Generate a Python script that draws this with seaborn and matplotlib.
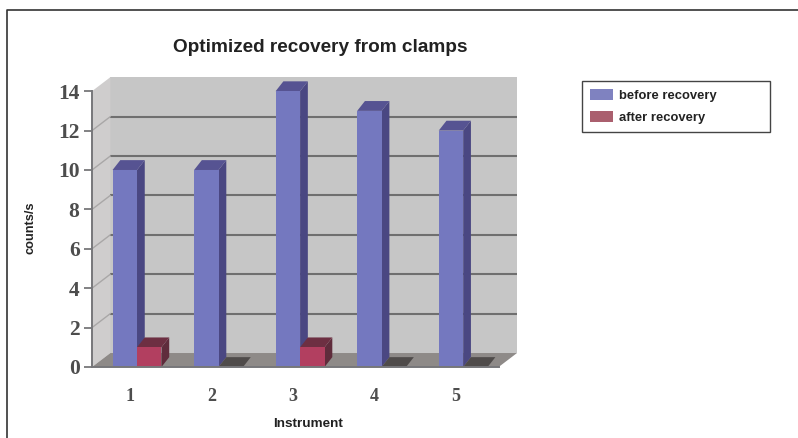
import matplotlib
matplotlib.use("Agg")
import matplotlib.pyplot as plt
from matplotlib.lines import Line2D
from matplotlib.patches import Polygon, Patch
from matplotlib.transforms import ScaledTranslation
import pandas as pd
import seaborn as sns

instruments = ["1", "2", "3", "4", "5"]
before_recovery = [10, 10, 14, 13, 12]
after_recovery = [1, 0, 1, 0, 0]
series_names = ["before recovery", "after recovery"]
y_ticks = [0, 2, 4, 6, 8, 10, 12, 14]

FRONT = {"before recovery": "#7478bf", "after recovery": "#b23f60"}
SIDE = {"before recovery": "#4a4782", "after recovery": "#5f2c3c"}
TOP = {"before recovery": "#565392", "after recovery": "#6d2f42"}
LEGEND_COLORS = ["#7f82c0", "#aa5f6e"]

W, H = 798, 438
sns.set_theme(style="white")
plt.rcParams["font.family"] = ["Liberation Sans", "DejaVu Sans"]

df = pd.DataFrame({
    "Instrument": instruments * 2,
    "series": [series_names[0]] * 5 + [series_names[1]] * 5,
    "value": before_recovery + after_recovery,
})

fig = plt.figure(figsize=(W / 100, H / 100), dpi=100, facecolor="white")
ax = fig.add_axes([92 / W, 1 - 367 / H, (517 - 92) / W, (367 - 77) / H])

sns.barplot(data=df, x="Instrument", y="value", hue="series", order=instruments,
            hue_order=series_names, palette=FRONT, width=0.6, saturation=1,
            edgecolor="none", linewidth=0, legend=False, ax=ax)

x_left, x_right = -0.552, 4.66
ax.set_xlim(x_left, x_right)
ax.set_ylim(0, 14.72)
ax.set_facecolor("none")

# Depth of the box and of each bar, in data units
wall_dx, wall_dy = 0.225, 0.71
bar_dx, bar_dy = 0.095, 0.5
x_front_end = x_right - wall_dx
top_value = y_ticks[-1]

# Back wall, side wall and floor
ax.add_patch(Polygon([(x_left + wall_dx, wall_dy), (x_right, wall_dy),
                      (x_right, top_value + wall_dy), (x_left + wall_dx, top_value + wall_dy)],
                     fc="#c6c6c6", ec="none", zorder=0.5))
ax.add_patch(Polygon([(x_left, 0), (x_left + wall_dx, wall_dy),
                      (x_left + wall_dx, top_value + wall_dy), (x_left, top_value)],
                     fc="#cfcdcd", ec="none", zorder=0.6))
ax.add_patch(Polygon([(x_left, 0), (x_front_end, 0), (x_right, wall_dy), (x_left + wall_dx, wall_dy)],
                     fc="#8e8a88", ec="none", zorder=0.7))

# Gridlines follow the wall and turn along the side wall
for v in y_ticks[1:-1]:
    ax.plot([x_left + wall_dx, x_right], [v + wall_dy] * 2, color="#6f6f6f", lw=1.5, zorder=1,
            solid_capstyle="butt")
    ax.plot([x_left, x_left + wall_dx], [v, v + wall_dy], color="#a9a7a7", lw=1.0, zorder=1)

# Extruded faces for each bar, built from the bars seaborn drew
for level, (name, container) in enumerate(zip(series_names, ax.containers)):
    base_z = 3 + 2 * level
    for bar in container:
        x0, w, h = bar.get_x(), bar.get_width(), bar.get_height()
        x1 = x0 + w
        bar.set_zorder(base_z + 1)
        ax.add_patch(Polygon([(x1, 0), (x1 + bar_dx, bar_dy), (x1 + bar_dx, h + bar_dy), (x1, h)],
                             fc=SIDE[name], ec="none", zorder=base_z))
        ax.add_patch(Polygon([(x0, h), (x1, h), (x1 + bar_dx, h + bar_dy), (x0 + bar_dx, h + bar_dy)],
                             fc=TOP[name] if h > 0 else "#4f4b4a", ec="none", zorder=base_z))

# Axes, ticks and labels
for side in ("top", "right"):
    ax.spines[side].set_visible(False)
for side in ("left", "bottom"):
    ax.spines[side].set_color("#77777a")
    ax.spines[side].set_linewidth(1.4)
    ax.spines[side].set_zorder(8)
ax.spines["left"].set_bounds(0, top_value)
ax.spines["bottom"].set_bounds(x_left, x_front_end)

tick_font = {"family": ["Liberation Serif", "DejaVu Serif"], "weight": "bold", "color": "#4d4d4d"}
ax.set_yticks(y_ticks)
ax.set_yticklabels([str(v) for v in y_ticks], fontsize=15.5, **tick_font)
ax.tick_params(axis="y", length=6, width=1.3, color="#77777a", pad=3, left=True)
ax.set_xticks(range(len(instruments)))
ax.set_xticklabels(instruments, fontsize=13, **tick_font)
ax.tick_params(axis="x", length=0, pad=15, bottom=False)
shift = ScaledTranslation(-7 / 100, 0, fig.dpi_scale_trans)
for label in ax.get_xticklabels():
    label.set_transform(label.get_transform() + shift)
ax.set_xlabel("")
ax.set_ylabel("")

fig.text(320 / W, 1 - 47 / H, "Optimized recovery from clamps", ha="center", va="center",
         fontsize=13.7, fontweight="bold", color="#222222")
fig.text(308 / W, 1 - 424 / H, "Instrument", ha="center", va="center",
         fontsize=9.7, fontweight="bold", color="#222222")
fig.text(30 / W, 1 - 228 / H, "counts/s", ha="center", va="center", rotation=90,
         fontsize=9.2, fontweight="bold", color="#222222")

handles = [Patch(fc=c, ec="none") for c in LEGEND_COLORS]
legend = fig.legend(handles, series_names, loc="upper left",
                    bbox_to_anchor=(582 / W, 1 - 132 / H, 188 / W, 51 / H),
                    mode="expand", ncols=1, prop={"size": 9.4, "weight": "bold"},
                    fancybox=False, framealpha=1, edgecolor="#444444", borderaxespad=0,
                    borderpad=0.6, handlelength=1.77, handleheight=0.9,
                    handletextpad=0.45, labelspacing=0.7, labelcolor="#222222")
legend.get_frame().set_linewidth(1.0)

# Outer border on the top and left of the page
fig.add_artist(Line2D([7 / W, 7 / W, 1], [0, 1 - 10 / H, 1 - 10 / H], color="#333333", lw=1.2))

fig.savefig("out.png", dpi=100)
